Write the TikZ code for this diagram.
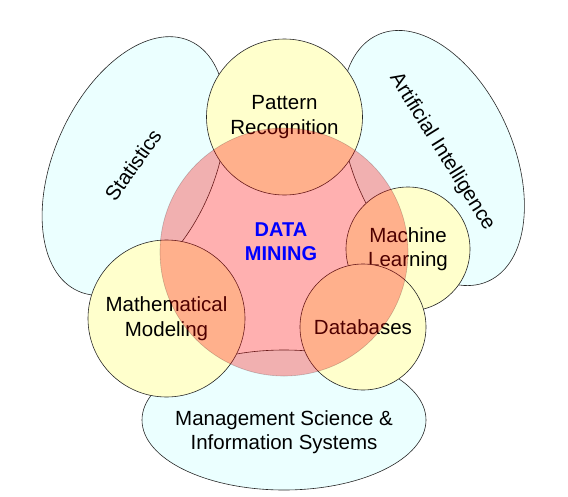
\documentclass[tikz,border=0pt]{standalone}
\usepackage{fontspec}
\setmainfont{Liberation Sans}
\usetikzlibrary{shapes.geometric}
\definecolor{cyanfill}{HTML}{EBFFFF}
\definecolor{yellowfill}{HTML}{FFFFCC}
\newcommand{\lblfont}{\fontsize{20.5}{24.5}\selectfont}
\begin{document}
\begin{tikzpicture}[x=1pt,y=-1pt,
  field/.style={ellipse, draw=black!85, line width=0.6pt, fill=cyanfill, inner sep=0pt},
  topic/.style={circle, draw=black!85, line width=0.6pt, fill=yellowfill, inner sep=0pt, align=center, font=\lblfont},
  lbl/.style={align=center, font=\lblfont, inner sep=0pt},
  core/.style={circle, fill=red, fill opacity=0.31, draw=black, draw opacity=0.2, line width=0.6pt, inner sep=0pt}]
\useasboundingbox (0,0) rectangle (568,496);
% fields
\node[field, minimum width=274pt, minimum height=160pt, rotate=66] (stat) at (134,166) {};
\node[field, minimum width=270pt, minimum height=160pt, rotate=-66] (ai) at (433,158) {};
\node[field, minimum width=284pt, minimum height=140pt] (ms) at (284,420) {};
\node[lbl, rotate=55] (statl) at (133,165) {Statistics};
\node[lbl, rotate=-58] (ail) at (442,152) {Artificial Intelligence};
\node[lbl] (msl) at (284,432) {Management Science \&\\Information Systems};
% topics
\node[topic, minimum size=156pt] (pr) at (284.5,117) {Pattern\\Recognition};
\node[topic, minimum size=124pt] (ml) at (408,249) {Machine\\Learning};
\node[topic, minimum size=126pt] (db) at (363,327) {Databases};
\node[topic, minimum size=157pt] (mm) at (166.5,318.5) {Mathematical\\Modeling};
% core
\node[core, minimum size=248pt] (dm) at (284,252) {};
\node[align=center, font=\fontsize{20}{24}\selectfont\bfseries, text=blue, inner sep=0pt] (dml) at (281,242) {DATA\\MINING};
\end{tikzpicture}
\end{document}
